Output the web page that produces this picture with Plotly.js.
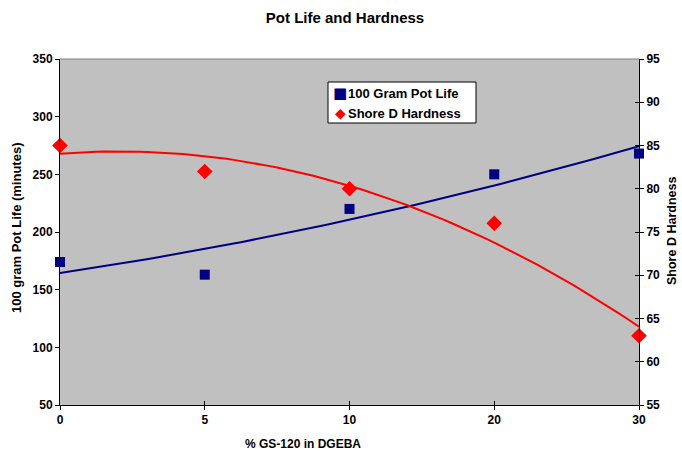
<!DOCTYPE html>
<html>
<head>
<meta charset="utf-8">
<script src="https://cdn.plot.ly/plotly-3.0.1.min.js"></script>
<style>html,body{margin:0;padding:0;background:#fff;}#chart{width:682px;height:452px;}</style>
</head>
<body>
<div id="chart"></div>
<script>
var categories = ['0', '5', '10', '20', '30'];
var potLife = [174, 163, 220, 250, 268];
var hardness = [85, 82, 80, 76, 63];
var potTicks = [50, 100, 150, 200, 250, 300, 350];
var hardTicks = [55, 60, 65, 70, 75, 80, 85, 90, 95];
var seriesNames = ['100 Gram Pot Life', 'Shore D Hardness'];

var idx = categories.map(function (_, i) { return i; });
function bold(a) { return a.map(function (v) { return '<b>' + v + '</b>'; }); }

// Excel-style 2nd order polynomial trendline (least squares on category index)
function quadFit(xs, ys) {
  var n = xs.length, sx = 0, sx2 = 0, sx3 = 0, sx4 = 0, sy = 0, sxy = 0, sx2y = 0;
  for (var i = 0; i < n; i++) {
    var x = xs[i], y = ys[i];
    sx += x; sx2 += x * x; sx3 += x * x * x; sx4 += x * x * x * x;
    sy += y; sxy += x * y; sx2y += x * x * y;
  }
  var A = [[n, sx, sx2, sy], [sx, sx2, sx3, sxy], [sx2, sx3, sx4, sx2y]];
  for (var c = 0; c < 3; c++) {
    for (var r = c + 1; r < 3; r++) {
      var f = A[r][c] / A[c][c];
      for (var k = c; k < 4; k++) A[r][k] -= f * A[c][k];
    }
  }
  var co = [0, 0, 0];
  for (var r2 = 2; r2 >= 0; r2--) {
    var s = A[r2][3];
    for (var k2 = r2 + 1; k2 < 3; k2++) s -= A[r2][k2] * co[k2];
    co[r2] = s / A[r2][r2];
  }
  return function (x) { return co[0] + co[1] * x + co[2] * x * x; };
}
function curve(fn) {
  var xs = [], ys = [];
  for (var t = 0; t <= 80; t++) { var x = t * (idx.length - 1) / 80; xs.push(x); ys.push(fn(x)); }
  return { x: xs, y: ys };
}
var potTrend = curve(quadFit(idx, potLife));
var hardTrend = curve(quadFit(idx, hardness));

var FF = 'Liberation Sans, Arial, sans-serif';
var NAVY = '#000080', RED = '#FF0000';

var data = [
  { x: potTrend.x, y: potTrend.y, mode: 'lines', line: { color: NAVY, width: 2 }, showlegend: false, hoverinfo: 'skip', cliponaxis: false },
  { x: hardTrend.x, y: hardTrend.y, yaxis: 'y2', mode: 'lines', line: { color: RED, width: 2 }, showlegend: false, hoverinfo: 'skip', cliponaxis: false },
  { x: idx, y: potLife, mode: 'markers', name: seriesNames[0], showlegend: false, marker: { symbol: 'square', size: 10, color: NAVY }, cliponaxis: false },
  { x: idx, y: hardness, yaxis: 'y2', mode: 'markers', name: seriesNames[1], showlegend: false, marker: { symbol: 'diamond', size: 12, color: RED }, cliponaxis: false },
  { x: [], y: [], xaxis: 'x2', yaxis: 'y3', showlegend: false, hoverinfo: 'skip' }
];

var tickFont = { family: FF, size: 12, color: '#000' };
var axBase = { showgrid: false, zeroline: false, showline: true, linecolor: '#000', linewidth: 1, ticks: 'outside', ticklen: 4, tickcolor: '#000', tickfont: tickFont };
function ax(o) { var r = {}; for (var k in axBase) r[k] = axBase[k]; for (var k2 in o) r[k2] = o[k2]; return r; }

// plot area in px: x 60..639, y 59..405
function px(x) { return (x - 60) / 579; }
function py(y) { return (405 - y) / 346; }

var layout = {
  width: 682, height: 452,
  margin: { l: 60, r: 43, t: 59, b: 47 },
  paper_bgcolor: '#fff',
  plot_bgcolor: '#C0C0C0',
  font: { family: FF, size: 12, color: '#000' },
  title: { text: '<b>Pot Life and Hardness</b>', font: { family: FF, size: 15, color: '#000' }, x: 345 / 682, xanchor: 'center', y: 1 - 18 / 452, yanchor: 'middle' },
  showlegend: false,
  xaxis: ax({ range: [0, 4], tickmode: 'array', tickvals: idx, ticktext: bold(categories) }),
  xaxis2: ax({ range: [0, 4], overlaying: 'x', anchor: 'y', side: 'bottom', tickmode: 'array', tickvals: idx, ticks: 'inside', showticklabels: false, showline: false }),
  yaxis: ax({ range: [50, 350], tickmode: 'array', tickvals: potTicks, ticktext: bold(potTicks) }),
  yaxis2: ax({ overlaying: 'y', side: 'right', anchor: 'x', range: [55, 95], tickmode: 'array', tickvals: hardTicks, ticktext: bold(hardTicks) }),
  yaxis3: ax({ overlaying: 'y', side: 'right', anchor: 'x', range: [55, 95], tickmode: 'array', tickvals: hardTicks, ticks: 'inside', showticklabels: false, showline: false }),
  shapes: [
    { type: 'line', xref: 'paper', yref: 'paper', x0: 0, x1: 1, y0: 1, y1: 1, line: { color: '#808080', width: 1 } },
    { type: 'rect', xref: 'paper', yref: 'paper', x0: px(328), x1: px(476), y0: py(123), y1: py(82), fillcolor: '#fff', line: { color: '#000', width: 1 }, layer: 'above' }
  ],
  annotations: [
    { xref: 'paper', yref: 'paper', x: px(303), y: py(444), text: '<b>% GS-120 in DGEBA</b>', showarrow: false, xanchor: 'center', yanchor: 'middle', font: { family: FF, size: 12, color: '#000' } },
    { xref: 'paper', yref: 'paper', x: px(16), y: py(228), text: '<b>100 gram Pot Life (minutes)</b>', textangle: -90, showarrow: false, xanchor: 'center', yanchor: 'middle', font: { family: FF, size: 13, color: '#000' } },
    { xref: 'paper', yref: 'paper', x: px(672), y: py(231), text: '<b>Shore D Hardness</b>', textangle: -90, showarrow: false, xanchor: 'center', yanchor: 'middle', font: { family: FF, size: 12.5, color: '#000' } },
    { xref: 'paper', yref: 'paper', x: px(340), y: py(93), text: '\u25A0', showarrow: false, xanchor: 'center', yanchor: 'middle', font: { family: 'DejaVu Sans', size: 15, color: NAVY } },
    { xref: 'paper', yref: 'paper', x: px(340), y: py(113), text: '\u25C6', showarrow: false, xanchor: 'center', yanchor: 'middle', font: { family: 'DejaVu Sans', size: 14, color: RED } },
    { xref: 'paper', yref: 'paper', x: px(346), y: py(93), text: '<b>' + seriesNames[0] + '</b>', showarrow: false, xanchor: 'left', yanchor: 'middle', font: { family: FF, size: 13, color: '#000' } },
    { xref: 'paper', yref: 'paper', x: px(346), y: py(113), text: '<b>' + seriesNames[1] + '</b>', showarrow: false, xanchor: 'left', yanchor: 'middle', font: { family: FF, size: 13, color: '#000' } }
  ]
};

Plotly.newPlot('chart', data, layout, { displayModeBar: false, staticPlot: true });
</script>
</body>
</html>
